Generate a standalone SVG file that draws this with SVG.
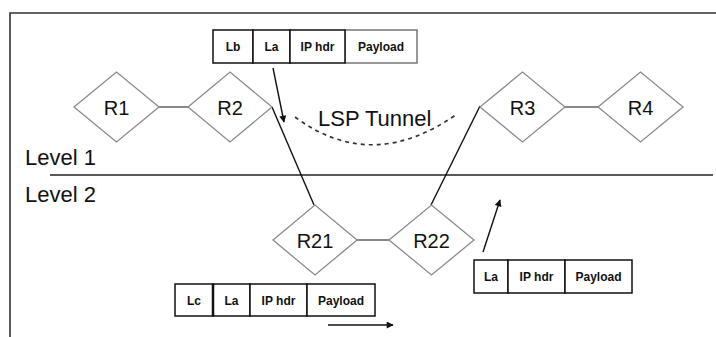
<svg xmlns="http://www.w3.org/2000/svg" width="716" height="337" viewBox="0 0 716 337">
<style>
.node{fill:#fff;stroke:#8a8a8a;stroke-width:1.3}
.lbl{font-family:"Liberation Sans",Arial,sans-serif;font-size:20px;fill:#111;text-anchor:middle}
.big{font-family:"Liberation Sans",Arial,sans-serif;font-size:22px;fill:#111}
.cell{fill:#fff;stroke:#111;stroke-width:1.5}
.ptxt{font-family:"Liberation Sans",Arial,sans-serif;font-size:12px;font-weight:bold;fill:#111;text-anchor:middle}
.link{stroke:#888;stroke-width:2;fill:none}
.wire{stroke:#111;stroke-width:1.4;fill:none}
.arr{stroke:#111;stroke-width:1.4;fill:none;marker-end:url(#ah)}
</style>
<defs>
<marker id="ah" viewBox="0 0 10 10" refX="9" refY="5" markerWidth="9" markerHeight="7" markerUnits="userSpaceOnUse" orient="auto">
<path d="M0,0 L10,5 L0,10 z" fill="#111"/>
</marker>
</defs>
<rect width="716" height="337" fill="#fff"/>
<g id="frame">
<path d="M10,337 V13 H716" fill="none" stroke="#333" stroke-width="1.6"/>
<line x1="50" y1="175" x2="713" y2="175" stroke="#222" stroke-width="1.5"/>
<text class="big" x="25" y="165">Level 1</text>
<text class="big" x="25" y="202">Level 2</text>
</g>
<g id="connectors">
<line class="link" x1="159" y1="107" x2="188" y2="107"/>
<line class="link" x1="565" y1="107" x2="598" y2="107"/>
<line class="link" x1="357" y1="240" x2="389" y2="240"/>
<line class="wire" x1="272" y1="107" x2="314" y2="205"/>
<line class="wire" x1="431" y1="205" x2="480" y2="106"/>
<path d="M295,117 Q372,174 457,114" fill="none" stroke="#333" stroke-width="1.7" stroke-dasharray="4,4"/>
<line class="arr" x1="273" y1="68" x2="284" y2="122"/>
<line class="arr" x1="328" y1="325" x2="393" y2="325"/>
<line class="arr" x1="483" y1="252" x2="500" y2="200"/>
</g>
<g id="tunnel-label">
<text class="big" x="318" y="126">LSP Tunnel</text>
</g>
<g id="R1"><path class="node" d="M74,107 L116.5,72 L159,107 L116.5,142 Z"/><text class="lbl" x="116.5" y="114.5">R1</text></g>
<g id="R2"><path class="node" d="M188,107 L230,72 L272,107 L230,142 Z"/><text class="lbl" x="230" y="114.5">R2</text></g>
<g id="R3"><path class="node" d="M480,107 L522.5,72 L565,107 L522.5,142 Z"/><text class="lbl" x="522.5" y="114.5">R3</text></g>
<g id="R4"><path class="node" d="M598,107 L640.5,72 L683,107 L640.5,142 Z"/><text class="lbl" x="640.5" y="114.5">R4</text></g>
<g id="R21"><path class="node" d="M273,240 L315,205 L357,240 L315,275 Z"/><text class="lbl" x="315" y="247.5">R21</text></g>
<g id="R22"><path class="node" d="M389,240 L431.5,205 L474,240 L431.5,275 Z"/><text class="lbl" x="431.5" y="247.5">R22</text></g>
<g id="packet-top">
<rect x="345" y="30" width="72" height="33" fill="#fff" stroke="#777" stroke-width="1.5"/>
<rect class="cell" x="213" y="30" width="40" height="33"/>
<rect class="cell" x="253" y="30" width="37" height="33"/>
<rect class="cell" x="290" y="30" width="55" height="33"/>
<text class="ptxt" x="233" y="51">Lb</text>
<text class="ptxt" x="271.5" y="51">La</text>
<text class="ptxt" x="317.5" y="51">IP hdr</text>
<text class="ptxt" x="381" y="51">Payload</text>
</g>
<g id="packet-bottom-left">
<rect class="cell" x="175" y="284" width="38" height="32"/>
<rect class="cell" x="213" y="284" width="37" height="32"/>
<rect class="cell" x="250" y="284" width="57" height="32"/>
<rect class="cell" x="307" y="284" width="68" height="32"/>
<line x1="213" y1="284" x2="213" y2="316" stroke="#111" stroke-width="2.5"/>
<text class="ptxt" x="194" y="304.5">Lc</text>
<text class="ptxt" x="231.5" y="304.5">La</text>
<text class="ptxt" x="278.5" y="304.5">IP hdr</text>
<text class="ptxt" x="341" y="304.5">Payload</text>
</g>
<g id="packet-bottom-right">
<rect class="cell" x="474" y="260" width="34" height="33"/>
<rect class="cell" x="508" y="260" width="57" height="33"/>
<rect class="cell" x="565" y="260" width="67" height="33"/>
<text class="ptxt" x="491" y="281">La</text>
<text class="ptxt" x="536.5" y="281">IP hdr</text>
<text class="ptxt" x="598.5" y="281">Payload</text>
</g>
</svg>
